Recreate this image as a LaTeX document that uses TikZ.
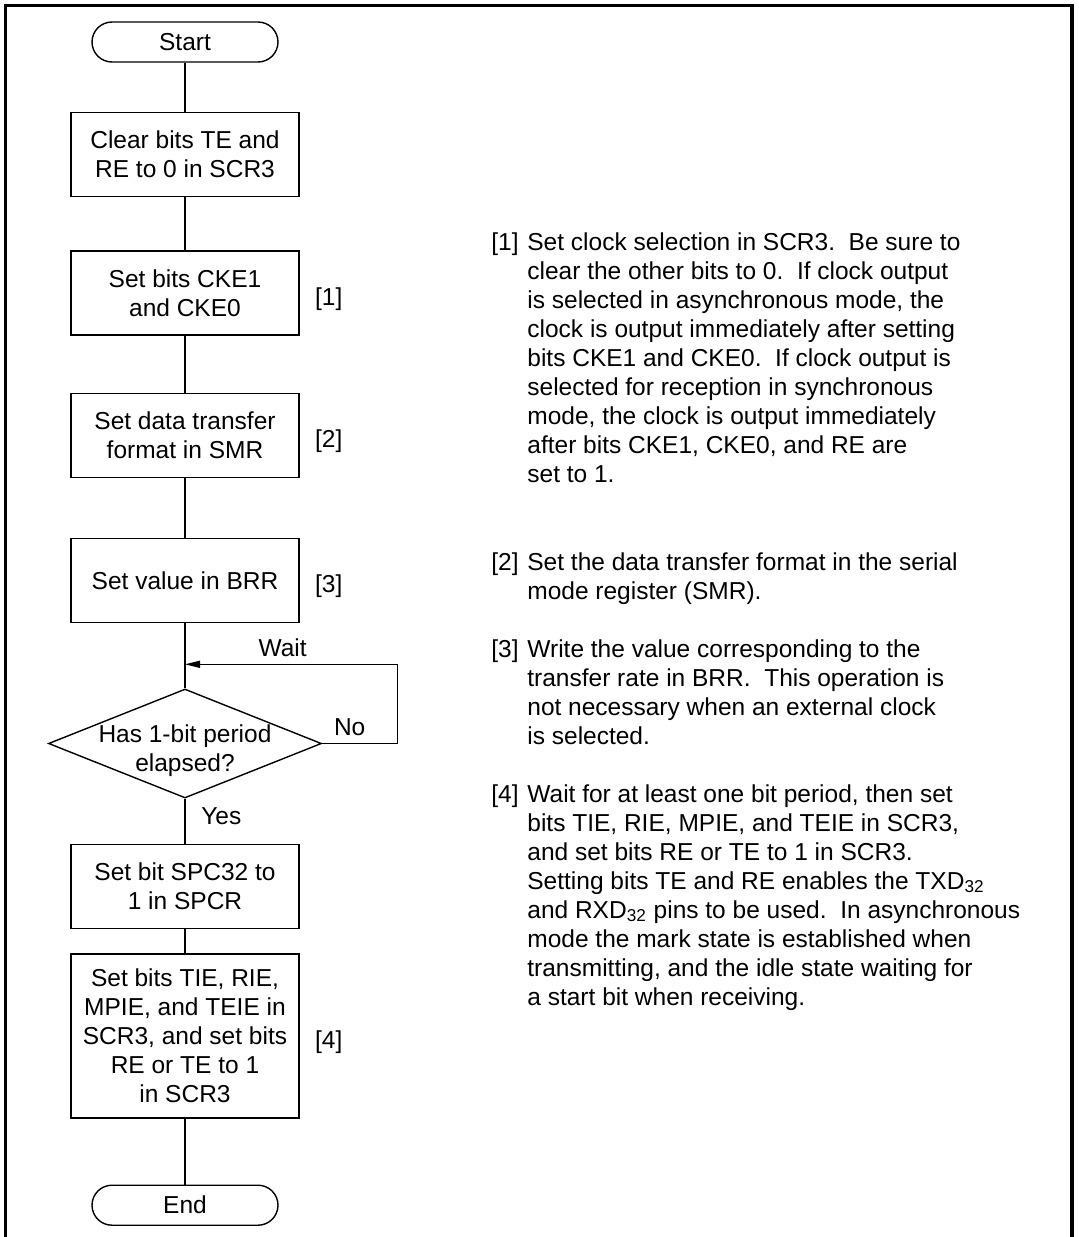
\documentclass[tikz,border=0pt]{standalone}
\usepackage{fontspec}
\setmainfont{Liberation Sans}
\usepackage{tikz}
\usetikzlibrary{arrows.meta,positioning,shapes.geometric}
\tikzset{
  stepbox/.style={
    rectangle,
    draw=black,
    line width=0.7pt,
    minimum width=114pt,
    minimum height=42pt,
    align=center,
    inner sep=2pt
  },
  termbox/.style={
    rectangle,
    rounded corners=10pt,
    draw=black,
    line width=0.7pt,
    minimum width=93pt,
    minimum height=20pt,
    inner sep=0pt
  },
  decision/.style={
    diamond,
    draw=black,
    line width=0.7pt,
    minimum width=136.5pt,
    minimum height=54.5pt,
    inner sep=0pt
  },
  tag/.style={inner sep=0pt, yshift=-3pt},
  note/.style={anchor=base west, inner sep=0pt},
  flow/.style={line width=0.65pt, black},
  loopflow/.style={-{Triangle[length=7.5pt,width=3.5pt]}, line width=0.65pt, black},
  frame/.style={line width=1.6pt}
}

\begin{document}
\begin{tikzpicture}[x=0.5pt,y=-0.5pt,font=\fontsize{12.25pt}{14.5pt}\selectfont]
\useasboundingbox (0,0) rectangle (1078,1237);
\draw[frame] (5.5,1237) -- (5.5,5.5) -- (1072,5.5) -- (1072,1237);

% flow chart
\node[termbox] (start) at (185,42) {Start};
\node[stepbox, below=24.5pt of start] (clr) {Clear bits TE and\\RE to 0 in SCR3};
\node[stepbox, below=26.5pt of clr] (cke) {Set bits CKE1\\and CKE0};
\node[stepbox, below=28.5pt of cke] (smr) {Set data transfer\\format in SMR};
\node[stepbox, below=30pt of smr] (brr) {Set value in BRR};
\node[decision, below=32.5pt of brr] (chk) {};
\node[align=center] (chktxt) at ([yshift=-3.5pt]chk.center) {Has 1-bit period\\elapsed?};
\node[stepbox, below=22.5pt of chk] (spc) {Set bit SPC32 to\\1 in SPCR};
\node[stepbox, minimum height=82pt, below=12pt of spc] (ena) {Set bits TIE, RIE,\\MPIE, and TEIE in\\SCR3, and set bits\\RE or TE to 1\\in SCR3};
\node[termbox, below=33pt of ena] (fin) {End};
\coordinate (back) at ([yshift=12pt]chk.north);

\node[tag, right=7.5pt of cke] (t1) {[1]};
\node[tag, right=7.5pt of smr] (t2) {[2]};
\node[tag, right=7.5pt of brr] (t3) {[3]};
\node[tag, right=7.5pt of ena] (t4) {[4]};

\draw[flow] (start) -- (clr);
\draw[flow] (clr) -- (cke);
\draw[flow] (cke) -- (smr);
\draw[flow] (smr) -- (brr);
\draw[flow] (brr) -- (chk);
\draw[flow] (chk) -- node[pos=0.38, right=4.5pt]{Yes} (spc);
\draw[flow] (spc) -- (ena);
\draw[flow] (ena) -- (fin);
\draw[loopflow] (chk.east) -- node[above, xshift=-5pt]{No} ++(75,0) |- node[pos=0.77, above]{Wait} (back);

% notes
\node[note] (n1) at (491,250) {\begin{tabular}[t]{@{}p{18pt}@{}l@{}}
{[1]} & Set clock selection in SCR3.\ \ Be sure to\\
 & clear the other bits to 0.\ \ If clock output\\
 & is selected in asynchronous mode, the\\
 & clock is output immediately after setting\\
 & bits CKE1 and CKE0.\ \ If clock output is\\
 & selected for reception in synchronous\\
 & mode, the clock is output immediately\\
 & after bits CKE1, CKE0, and RE are\\
 & set to 1.
\end{tabular}};
\node[note] (n2) at (491,570) {\begin{tabular}[t]{@{}p{18pt}@{}l@{}}
{[2]} & Set the data transfer format in the serial\\
 & mode register (SMR).
\end{tabular}};
\node[note] (n3) at (491,657) {\begin{tabular}[t]{@{}p{18pt}@{}l@{}}
{[3]} & Write the value corresponding to the\\
 & transfer rate in BRR.\ \ This operation is\\
 & not necessary when an external clock\\
 & is selected.
\end{tabular}};
\node[note] (n4) at (491,802) {\begin{tabular}[t]{@{}p{18pt}@{}l@{}}
{[4]} & Wait for at least one bit period, then set\\
 & bits TIE, RIE, MPIE, and TEIE in SCR3,\\
 & and set bits RE or TE to 1 in SCR3.\\
 & Setting bits TE and RE enables the TXD\textsubscript{32}\\
 & and RXD\textsubscript{32} pins to be used.\ \ In asynchronous\\
 & mode the mark state is established when\\
 & transmitting, and the idle state waiting for\\
 & a start bit when receiving.
\end{tabular}};
\end{tikzpicture}
\end{document}
